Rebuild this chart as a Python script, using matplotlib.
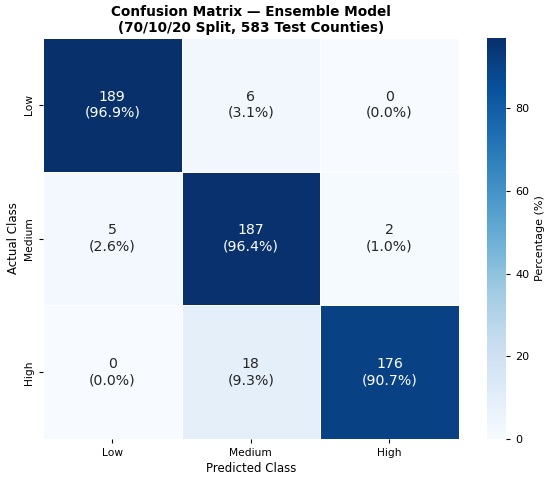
import numpy as np
import matplotlib
matplotlib.use("Agg")
import matplotlib.pyplot as plt
import seaborn as sns

# class labels and confusion counts (rows = actual, cols = predicted)
classes = ["Low", "Medium", "High"]
counts = np.array([
    [189, 6, 0],
    [5, 187, 2],
    [0, 18, 176],
])

pct = counts / counts.sum(axis=1, keepdims=True) * 100
annot = np.array([[f"{counts[i, j]}\n({pct[i, j]:.1f}%)" for j in range(3)]
                  for i in range(3)])

fig = plt.figure(figsize=(5.5, 4.8), dpi=100)
ax = fig.add_axes([0.078, 0.085, 0.756, 0.836])
cax = fig.add_axes([0.885, 0.085, 0.035, 0.836])
sns.heatmap(pct, annot=annot, fmt="", cmap="Blues", linewidths=0.5,
            linecolor="white", xticklabels=classes, yticklabels=classes,
            annot_kws={"size": 10.2}, cbar_ax=cax,
            cbar_kws={"label": "Percentage (%)"}, ax=ax)

ax.set_title("Confusion Matrix \u2014 Ensemble Model\n(70/10/20 Split, 583 Test Counties)",
             fontsize=9.8, fontweight="bold", pad=4)
ax.set_xlabel("Predicted Class", fontsize=8.5, labelpad=3)
ax.set_ylabel("Actual Class", fontsize=8.5, labelpad=3)
ax.tick_params(labelsize=7.7, length=3)
cax.tick_params(labelsize=8, length=3)
cax.yaxis.label.set_size(8)

fig.savefig("out.png", dpi=100)
